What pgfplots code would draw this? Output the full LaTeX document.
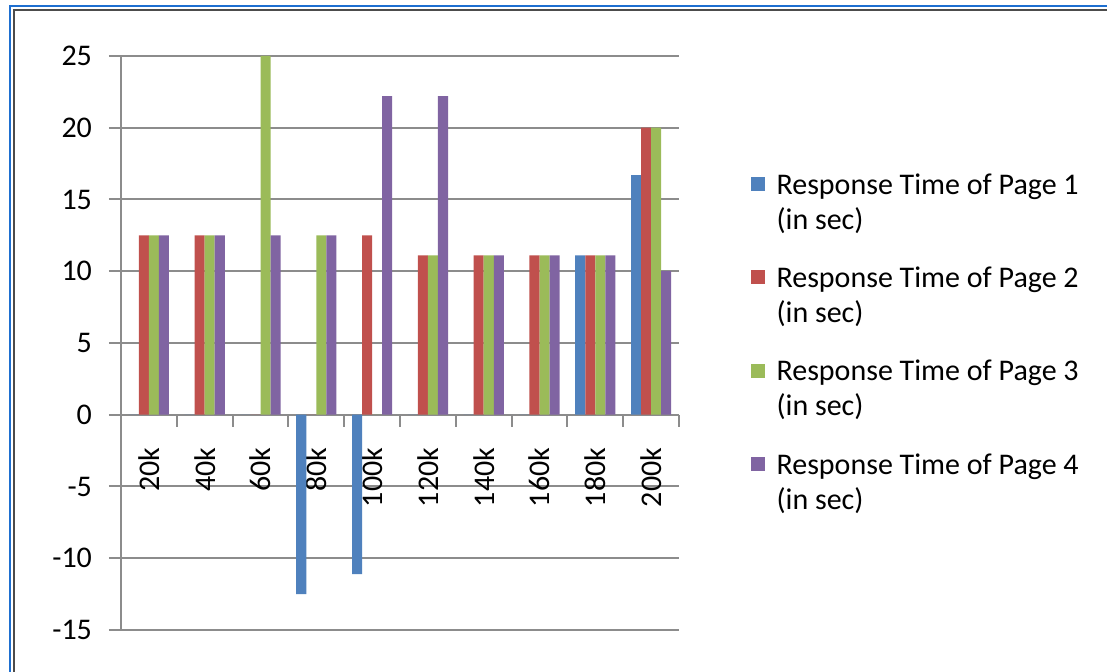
\documentclass[border=0pt]{standalone}
\usepackage{pgfplots}
\pgfplotsset{compat=1.18}
\usepackage{fontspec}
\setmainfont{Carlito}
\definecolor{c1}{HTML}{4F81BD}
\definecolor{c2}{HTML}{C0504D}
\definecolor{c3}{HTML}{9BBB59}
\definecolor{c4}{HTML}{8064A2}
\definecolor{gridc}{HTML}{8C8C8C}
\definecolor{frameblue}{HTML}{1E6FD0}
\begin{document}
\begin{tikzpicture}
\useasboundingbox (0,0) rectangle (553.5pt,336pt);
\fill[white] (0,0) rectangle (553.5pt,336pt);
\draw[frameblue, line width=1.2pt] (5pt,0) -- (5pt,333pt) -- (553.5pt,333pt);
\draw[black!70, line width=0.8pt] (7pt,0) -- (7pt,331pt) -- (553.5pt,331pt);
\begin{axis}[
  at={(60.5pt,21pt)}, anchor=south west,
  scale only axis, width=279pt, height=287pt,
  xmin=-0.5, xmax=9.5, ymin=-15, ymax=25,
  axis x line=middle, axis y line=left,
  x axis line style={-, gridc, line width=1pt},
  y axis line style={-, gridc, line width=1pt},
  ytick={-15,-10,...,25},
  xtick={-0.5,0.5,...,9.5},
  xticklabels={},
  extra x ticks={0,1,2,3,4,5,6,7,8,9},
  extra x tick labels={20k,40k,60k,80k,100k,120k,140k,160k,180k,200k},
  extra x tick style={major tick length=0pt, grid=none,
     xticklabel style={yshift=-13pt, rotate=90, anchor=east}},
  yticklabel style={xshift=-5pt},
  tick align=outside,
  major tick length=6pt,
  tick style={gridc, line width=1pt},
  ymajorgrids,
  grid style={gridc, line width=1pt},
  tick label style={font=\fontsize{15}{17}\selectfont},
  /pgf/number format/assume math mode=true,
  ybar, bar width=0.18,
  legend style={at={(1.1167,0.5)}, anchor=west, draw=none, fill=none,
     font=\fontsize{15}{17.5}\selectfont,
     nodes={align=left}, row sep=13.25pt, column sep=4pt},
  legend cell align=left,
  legend image code/.code={\fill[#1] (0pt,6pt) rectangle (7pt,13pt);},
]
\addplot[fill=c1, draw=none, bar shift=-0.27] coordinates {(0,0) (1,0) (2,0) (3,-12.5) (4,-11.1) (5,0) (6,0) (7,0) (8,11.1) (9,16.7)};
\addplot[fill=c2, draw=none, bar shift=-0.09] coordinates {(0,12.5) (1,12.5) (2,0) (3,0) (4,12.5) (5,11.1) (6,11.1) (7,11.1) (8,11.1) (9,20)};
\addplot[fill=c3, draw=none, bar shift=0.09] coordinates {(0,12.5) (1,12.5) (2,25) (3,12.5) (4,0) (5,11.1) (6,11.1) (7,11.1) (8,11.1) (9,20)};
\addplot[fill=c4, draw=none, bar shift=0.27] coordinates {(0,12.5) (1,12.5) (2,12.5) (3,12.5) (4,22.2) (5,22.2) (6,11.1) (7,11.1) (8,11.1) (9,10)};
\legend{{Response Time of Page 1\\(in sec)},{Response Time of Page 2\\(in sec)},{Response Time of Page 3\\(in sec)},{Response Time of Page 4\\(in sec)}}
\end{axis}
\end{tikzpicture}
\end{document}
